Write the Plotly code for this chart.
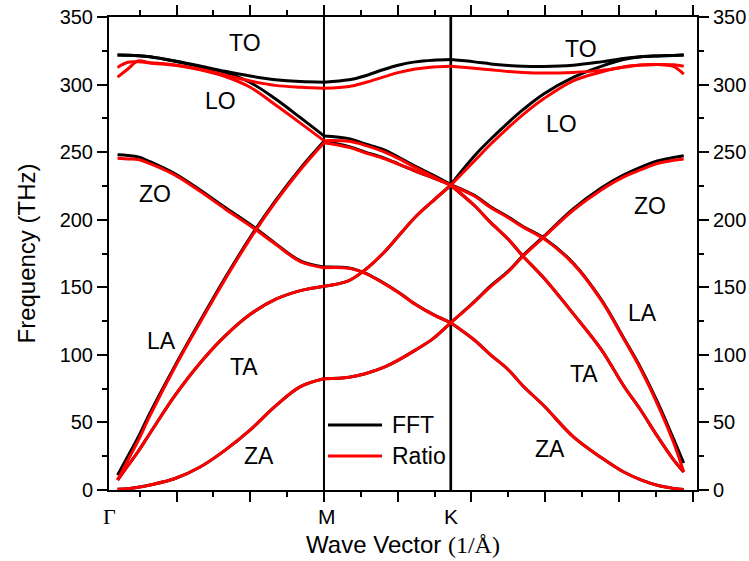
import plotly.graph_objects as go

# Sample positions along the Γ–M–K–Γ path (wave vector, 1/Å)
q_path = [0.00, 0.07, 0.14, 0.22, 0.39, 0.56, 0.73, 0.90, 1.07, 1.24, 1.40,
          1.57, 1.68, 1.80, 1.91, 2.02, 2.14, 2.26,
          2.42, 2.53, 2.65, 2.75, 2.89, 3.09, 3.28, 3.43, 3.55, 3.66, 3.77, 3.84]
q_points = [0.00, 1.40, 2.26, 3.84]          # Γ, M, K, Γ
point_labels = ["Γ", "M", "K", "Γ"]
point_label_q = [-0.055, 1.42, 2.26, 3.97]

# FFT dispersion (THz)
fft_za = [0.5, 1, 2, 3.7, 8.5, 17, 29.5, 44.5, 62, 76.5, 82.3,
          83.5, 86, 90.5, 96.5, 103.5, 112, 123.8,
          111, 100, 89, 77, 62.5, 39.5, 24, 13.5, 7.5, 3.5, 1.2, 0.3]
fft_ta = [7.4, 18, 28.5, 42, 70, 94, 114, 130, 141, 147.5, 150.8,
          155, 163, 175, 188.5, 202, 214, 225.5,
          210.5, 198, 185.5, 173, 157, 130.5, 104, 77.5, 58.8, 40, 22.5, 13.3]
fft_la = [11, 25, 39, 57, 92, 125, 157, 187, 214, 238, 258,
          254, 250, 246, 241, 236, 231, 226,
          218, 209.6, 202, 195, 186.5, 168, 141, 113, 90, 65.5, 38, 20]
fft_zo = [248, 247.5, 246.5, 243, 234, 222, 209, 196.5, 182.5, 169.5, 165,
          164.3, 160.5, 153.5, 146, 137.5, 130, 123.8,
          139.5, 151, 162, 173.5, 187.6, 208, 223.5, 233, 239, 243.5, 246, 247.3]
fft_lo = [321.8, 321.7, 321.4, 320.6, 317.3, 313.3, 309, 301.5, 289.5, 275.5, 262,
          260, 256, 252, 246, 239.5, 233, 226,
          247.2, 259.5, 271.9, 281.4, 293, 305.3, 313.5, 318.5, 320.6, 321.2, 321.6, 321.8]
fft_to = [321.8, 321.7, 321.4, 320.6, 317.5, 313.8, 309.8, 306.3, 303.6, 302.2, 301.8,
          303.5, 306.5, 311, 314.5, 316.8, 318, 318.5,
          316.8, 315.3, 314.2, 313.6, 313.4, 314.3, 316.8, 319.3, 320.6, 321.2, 321.6, 321.8]

# Ratio dispersion (THz)
ratio_za = fft_za
ratio_ta = fft_ta
ratio_la = [7.5, 22, 36.5, 55, 91, 124, 156, 186, 213, 237, 257,
            253.5, 249.5, 245.5, 241, 236, 231, 225.5,
            217.5, 209, 201.5, 194.5, 186, 167.5, 140.5, 112.5, 89, 64, 35.5, 13.3]
ratio_zo = [245.5, 245, 244.5, 241.5, 233, 221, 208, 195.5, 182, 169, 164.5,
            164, 160.3, 153.3, 145.8, 137.3, 129.8, 123.8,
            139, 150.5, 161.5, 173, 187, 207, 222, 231.5, 237, 241.5, 244, 245]
ratio_lo = [305.5, 311.5, 317.5, 316, 314.3, 311, 306, 298, 285, 271.5, 258.5,
            258, 255, 250.5, 245, 238.5, 232, 225.5,
            243.4, 255.8, 268.2, 277.8, 289.5, 302.8, 309.3, 313, 314.4, 314.8, 313.5, 307.7]
ratio_to = [312.7, 316.5, 316.8, 316.2, 314.5, 311.3, 307, 302.6, 299.4, 298, 297.2,
            298.5, 301.5, 305.5, 309, 311.5, 313, 313.6,
            312, 310.9, 309.7, 309, 308.5, 309, 310.5, 312.8, 314.4, 314.8, 314.6, 313.6]

# Branch name labels drawn inside the plot
branch_labels = ["TO", "LO", "ZO", "LA", "TA", "ZA", "TO", "LO", "ZO", "LA", "TA", "ZA"]
branch_label_q = [0.864, 0.701, 0.257, 0.296, 0.857, 0.962,
                  3.140, 3.014, 3.611, 3.557, 3.164, 2.933]
branch_label_f = [331, 288, 219, 110, 91, 25.5, 326.5, 271, 210, 131, 86, 30]

series_names = ["FFT", "Ratio"]
series_colors = ["#000000", "#ff0000"]
series_branches = [
    [fft_za, fft_ta, fft_la, fft_zo, fft_lo, fft_to],
    [ratio_za, ratio_ta, ratio_la, ratio_zo, ratio_lo, ratio_to],
]

SANS = "Liberation Sans, Arial, sans-serif"
SERIF = "Liberation Serif, Times New Roman, serif"
F_MAX = 350

fig = go.Figure()

# high-symmetry lines at M and K
for q, w in zip(q_points[1:3], [2.0, 2.7]):
    fig.add_trace(go.Scatter(x=[q, q], y=[0, F_MAX], mode="lines",
                             line=dict(color="black", width=w),
                             showlegend=False, hoverinfo="skip", yaxis="y"))

# each branch is drawn piecewise between high-symmetry points
seg_idx = [q_path.index(p) for p in q_points]
for name, color, branches in zip(series_names, series_colors, series_branches):
    for values in branches:
        for a, b in zip(seg_idx[:-1], seg_idx[1:]):
            fig.add_trace(go.Scatter(
                x=q_path[a:b + 1], y=values[a:b + 1], mode="lines",
                line=dict(color=color, width=3, shape="spline", smoothing=1.0),
                name=name, legendgroup=name, showlegend=False,
                hoverinfo="skip", yaxis="y2"))

annotations = []
for t, q, f in zip(branch_labels, branch_label_q, branch_label_f):
    annotations.append(dict(x=q, y=f, xref="x", yref="y", text=t, showarrow=False,
                            xanchor="center", yanchor="middle",
                            font=dict(family=SANS, size=23, color="black")))
for t, q in zip(point_labels, point_label_q):
    fam = SERIF if t == "Γ" else SANS
    annotations.append(dict(x=q, y=-0.055, xref="x", yref="paper", text=t,
                            showarrow=False, xanchor="center", yanchor="middle",
                            font=dict(family=fam, size=22 if t == "Γ" else 21,
                                      color="black")))

# legend keys
legend_y = [0.1374, 0.0719]
shapes = []
for name, color, ly in zip(series_names, series_colors, legend_y):
    shapes.append(dict(type="line", xref="paper", yref="paper",
                       x0=0.3724, x1=0.4643, y0=ly, y1=ly,
                       line=dict(color=color, width=3)))
    annotations.append(dict(x=0.4779, y=ly, xref="paper", yref="paper", text=name,
                            showarrow=False, xanchor="left", yanchor="middle",
                            font=dict(family=SANS, size=23, color="black")))

tick_common = dict(ticks="outside", ticklen=10, tickwidth=2, tickcolor="black",
                   showline=True, linewidth=2, linecolor="black",
                   showgrid=False, zeroline=False, automargin=False)
y_common = dict(range=[0, F_MAX], dtick=50, tick0=0,
                tickfont=dict(family=SANS, size=20, color="black"),
                minor=dict(ticks="outside", ticklen=5, tickwidth=2,
                           tickcolor="black", dtick=25, tick0=0, showgrid=False),
                **tick_common)

fig.update_layout(
    template="none",
    width=749, height=561,
    margin=dict(l=109, r=52, t=17, b=71, autoexpand=False),
    paper_bgcolor="white", plot_bgcolor="white",
    showlegend=False,
    font=dict(family=SANS, color="black"),
    xaxis=dict(range=[-0.058, 3.930], tick0=1.40, dtick=0.5, showticklabels=False,
               mirror="ticks",
               minor=dict(ticks="outside", ticklen=5, tickwidth=2,
                          tickcolor="black", dtick=0.25, tick0=1.40, showgrid=False),
               title=dict(text="Wave Vector <span style='font-family:Liberation Serif'>(1/Å)</span>",
                          font=dict(family=SANS, size=24, color="black"), standoff=35),
               **tick_common),
    yaxis=dict(title=dict(text="Frequency (THz)",
                          font=dict(family=SANS, size=24, color="black"), standoff=17),
               side="left", **y_common),
    yaxis2=dict(overlaying="y", side="right", **y_common),
    annotations=annotations,
    shapes=shapes,
)

fig.write_html("out.html")
